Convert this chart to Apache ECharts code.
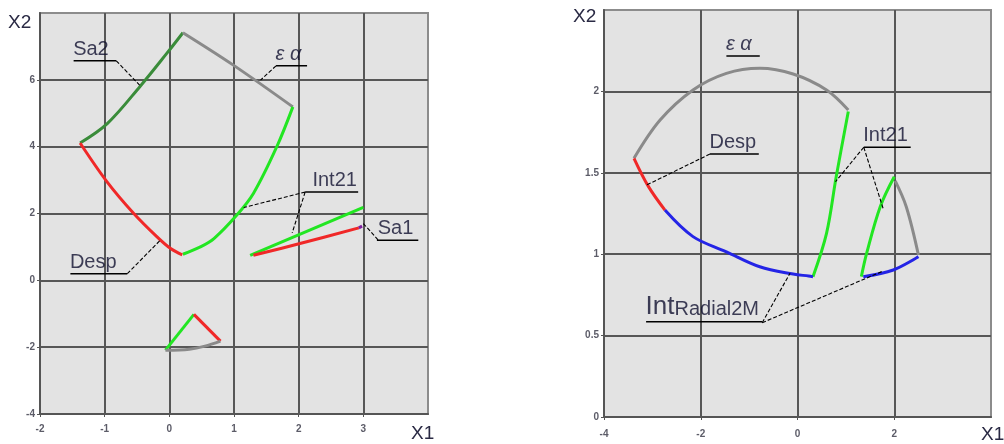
<!DOCTYPE html>
<html>
<head>
<meta charset="utf-8">
<script src="https://cdn.jsdelivr.net/npm/echarts@6/dist/echarts.min.js"></script>
<style>
html,body{margin:0;padding:0;background:#fff;}
#chart{width:1004px;height:444px;}
</style>
</head>
<body>
<div id="chart"></div>
<script>
// ---------- Left panel data ----------
const leftSa2 = [[-1.38,4.11],[-0.96,4.69],[-0.45,5.81],[-0.04,6.79],[0.21,7.41]];
const leftEa = [[0.21,7.41],[0.99,6.44],[1.91,5.19]];
const leftInt21A = [[1.91,5.19],[1.66,3.99],[1.30,2.60],[1.02,1.90],[0.69,1.25],[0.48,1.00],[0.21,0.78]];
const leftDesp = [[-1.38,4.11],[-0.96,2.94],[-0.55,2.00],[-0.19,1.30],[0.02,0.95],[0.20,0.76]];
const leftInt21B = [[1.25,0.75],[3.00,2.18]];
const leftRed2 = [[1.30,0.75],[2.02,1.10],[2.93,1.57]];
const leftSa1 = [[2.93,1.57],[2.98,1.62]];
const leftTriGreen = [[-0.06,-2.09],[0.38,-1.02]];
const leftTriRed = [[0.38,-1.02],[0.79,-1.82]];
const leftTriGray = [[0.79,-1.82],[0.55,-1.97],[0.31,-2.06],[-0.06,-2.09]];

const leftLabels = [
  ['Sa2', -1.48, 6.57],
  ['ε α', 1.65, 6.42],
  ['Int21', 2.22, 2.64],
  ['Sa1', 3.23, 1.20],
  ['Desp', -1.53, 0.20]
];
const leftUnderlines = [
  [[-1.48,6.57],[-0.82,6.57]],
  [[1.65,6.42],[2.13,6.42]],
  [[2.10,2.64],[2.92,2.64]],
  [[3.21,1.20],[3.85,1.20]],
  [[-1.53,0.20],[-0.65,0.20]]
];
const leftLeaders = [
  [[-0.82,6.57],[-0.46,5.84]],
  [[1.65,6.42],[1.41,5.99]],
  [[2.10,2.64],[1.15,2.18]],
  [[2.10,2.64],[1.90,1.42]],
  [[3.00,1.70],[3.21,1.25],[3.23,1.20]],
  [[-0.65,0.20],[-0.14,1.20]]
];

// ---------- Right panel data ----------
const rightEa = [[-3.38,1.589],[-2.84,1.824],[-2.16,2.009],[-1.47,2.111],[-0.78,2.142],[-0.09,2.107],[0.60,2.009],[1.05,1.886]];
const rightInt21A = [[1.05,1.876],[0.80,1.476],[0.60,1.128],[0.32,0.862]];
const rightDesp = [[-3.38,1.589],[-3.08,1.415],[-2.74,1.271]];
const rightRadialA = [[-2.74,1.271],[-2.16,1.108],[-1.47,1.015],[-0.78,0.923],[-0.09,0.878],[0.23,0.866],[0.32,0.862]];
const rightInt21B = [[2.00,1.476],[1.71,1.292],[1.43,1.006],[1.32,0.862]];
const rightEaB = [[2.02,1.45],[2.25,1.29],[2.50,0.995]];
const rightRadialB = [[1.36,0.862],[1.98,0.903],[2.50,0.985]];

const rightLabels = [
  ['ε α', -1.47, 2.217],
  ['Desp', -1.81, 1.615],
  ['Int21', 1.37, 1.657],
  ['IntRadial2M', -3.13, 0.585]
];
const rightUnderlines = [
  [[-1.47,2.217],[-0.78,2.217]],
  [[-1.81,1.615],[-0.80,1.615]],
  [[1.37,1.657],[2.34,1.657]],
  [[-3.13,0.585],[-0.73,0.585]]
];
const rightLeaders = [
  [[-1.81,1.615],[-3.12,1.425]],
  [[1.37,1.657],[0.785,1.445]],
  [[1.37,1.657],[1.78,1.271]],
  [[-0.73,0.579],[-0.155,0.883]],
  [[-0.73,0.579],[1.74,0.893]]
];

// ---------- Chart ----------
const COL = {green:'#22e622', dkgreen:'#3a8c3a', red:'#f02828', gray:'#8a8a8a', blue:'#2424e6', purple:'#8020a0'};
const TXT = '#101030';
const FONT = 'Liberation Sans, Arial, sans-serif';

function curve(data, color, g){
  return {type:'line', xAxisIndex:g, yAxisIndex:g, data:data, symbol:'none', showSymbol:false,
    smooth: data.length > 2 ? 0.35 : false,
    lineStyle:{color:color, width:3}, z:3, silent:true, animation:false};
}
function thin(data, g, dash){
  return {type:'line', xAxisIndex:g, yAxisIndex:g, data:data, symbol:'none', showSymbol:false,
    lineStyle:{color:'#000', width:dash?1.1:1.5, type:dash?[4,2]:'solid'}, z:4, silent:true, animation:false};
}
function labels(list, g){
  return {type:'scatter', xAxisIndex:g, yAxisIndex:g, symbolSize:1, itemStyle:{color:'rgba(0,0,0,0)'},
    data:list.map(d=>[d[1], d[2], d[0]]), z:5, silent:true, animation:false,
    label:{show:true, position:[0,0], align:'left', verticalAlign:'bottom', offset:[0,-1],
      fontFamily:FONT, fontSize:20, color:TXT, lineHeight:20,
      formatter:function(p){
        const t = p.data[2];
        if (t === 'ε α') return '{i|ε α}';
        if (t === 'IntRadial2M') return '{a|Int}{b|Radial2M}';
        return t;
      },
      rich:{
        i:{fontStyle:'italic', fontSize:20, lineHeight:20, color:TXT, verticalAlign:'bottom'},
        a:{fontSize:26, lineHeight:26, color:TXT, verticalAlign:'bottom'},
        b:{fontSize:20, lineHeight:20, color:TXT, verticalAlign:'bottom', padding:[0,0,1,0]}
      }
    }};
}
const tickLabel = {showMaxLabel:false, fontSize:10, fontWeight:'bold', color:'#5c5c68', fontFamily:FONT};
function xAx(g, min, max, iv, margin){
  return {type:'value', gridIndex:g, min:min, max:max, interval:iv,
    axisLine:{show:true, onZero:false, lineStyle:{color:'#555', width:2}},
    axisTick:{show:true, length:3, lineStyle:{color:'#555', width:1}},
    splitLine:{show:true, showMaxLine:false, lineStyle:{color:'#575757', width:2}},
    axisLabel:Object.assign({margin:margin}, tickLabel)};
}
function yAx(g, min, max, iv){
  return {type:'value', gridIndex:g, min:min, max:max, interval:iv,
    axisLine:{show:true, onZero:false, lineStyle:{color:'#555', width:2}},
    axisTick:{show:true, length:3, lineStyle:{color:'#555', width:1}},
    splitLine:{show:true, showMaxLine:false, lineStyle:{color:'#575757', width:2}},
    axisLabel:Object.assign({margin:5}, tickLabel)};
}

const series = [
  curve(leftSa2, COL.dkgreen, 0),
  curve(leftEa, COL.gray, 0),
  curve(leftInt21A, COL.green, 0),
  curve(leftDesp, COL.red, 0),
  curve(leftInt21B, COL.green, 0),
  curve(leftRed2, COL.red, 0),
  curve(leftSa1, COL.purple, 0),
  curve(leftTriGreen, COL.green, 0),
  curve(leftTriRed, COL.red, 0),
  curve(leftTriGray, COL.gray, 0),
  curve(rightEa, COL.gray, 1),
  curve(rightInt21A, COL.green, 1),
  curve(rightDesp, COL.red, 1),
  curve(rightRadialA, COL.blue, 1),
  curve(rightInt21B, COL.green, 1),
  curve(rightEaB, COL.gray, 1),
  curve(rightRadialB, COL.blue, 1),
  labels(leftLabels, 0),
  labels(rightLabels, 1)
];
leftUnderlines.forEach(d=>series.push(thin(d,0,false)));
leftLeaders.forEach(d=>series.push(thin(d,0,true)));
rightUnderlines.forEach(d=>series.push(thin(d,1,false)));
rightLeaders.forEach(d=>series.push(thin(d,1,true)));

const axisNameFont = '19px "Liberation Sans", Arial, sans-serif';
const chart = echarts.init(document.getElementById('chart'), null, {renderer:'canvas'});
chart.setOption({
  animation:false,
  backgroundColor:'#ffffff',
  grid:[
    {left:40, top:13, width:388, height:401, show:true, backgroundColor:'#e3e3e3', borderColor:'#8c8c8c', borderWidth:2},
    {left:604, top:10, width:387, height:407, show:true, backgroundColor:'#e3e3e3', borderColor:'#8c8c8c', borderWidth:2}
  ],
  xAxis:[xAx(0,-2,4,1,10), xAx(1,-4,4,2,12)],
  yAxis:[yAx(0,-4,8,2), yAx(1,0,2.5,0.5)],
  graphic:[
    {type:'text', x:8, y:23, style:{text:'X2', font:axisNameFont, fill:'#2a2a44', align:'left', verticalAlign:'middle'}},
    {type:'text', x:411, y:434, style:{text:'X1', font:axisNameFont, fill:'#2a2a44', align:'left', verticalAlign:'middle'}},
    {type:'text', x:573, y:17, style:{text:'X2', font:axisNameFont, fill:'#2a2a44', align:'left', verticalAlign:'middle'}},
    {type:'text', x:981, y:435, style:{text:'X1', font:axisNameFont, fill:'#2a2a44', align:'left', verticalAlign:'middle'}}
  ],
  series:series
});
</script>
</body>
</html>
